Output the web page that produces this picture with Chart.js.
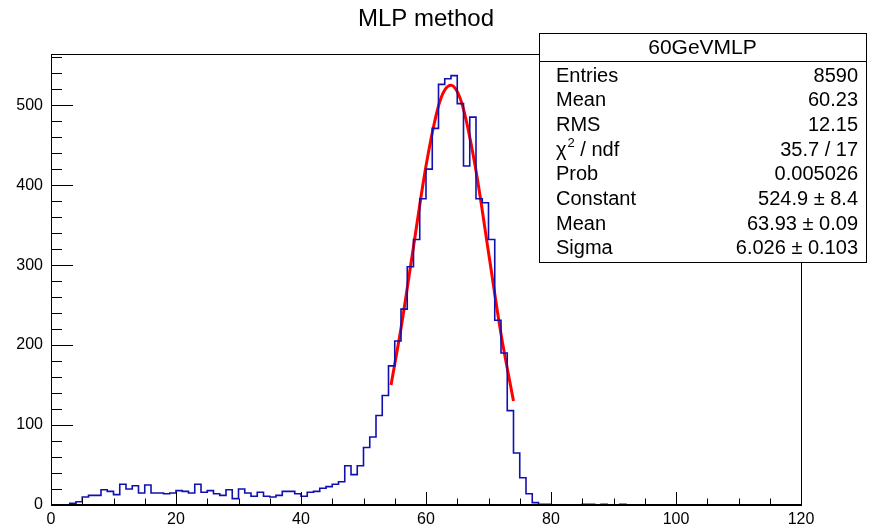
<!DOCTYPE html>
<html>
<head>
<meta charset="utf-8">
<script src="https://cdn.jsdelivr.net/npm/chart.js@4.4.1/dist/chart.umd.min.js"></script>
<style>
  html, body { margin: 0; padding: 0; background: #fff; }
  #mlpChart { display: block; }
</style>
</head>
<body>
<canvas id="mlpChart" width="884" height="526"></canvas>
<script>
// histogram: 120 bins of width 1 from 0 to 120
const binLow = 0;
const binWidth = 1;
const binCounts = [
    0, 0, 0, 2, 4, 10, 12, 12, 19, 17,
    13, 26, 20, 24, 15, 25, 15, 15, 14, 15,
    18, 17, 15, 26, 16, 18, 14, 12, 19, 8,
    20, 15, 11, 16, 11, 10, 12, 17, 17, 14,
    11, 16, 17, 21, 23, 26, 29, 49, 38, 49,
    72, 85, 112, 137, 174, 205, 245, 298, 332, 383,
    420, 471, 526, 533, 537, 502, 424, 485, 383, 378,
    332, 231, 190, 118, 65, 34, 14, 3, 1, 1,
    0, 0, 0, 0, 0, 1, 1, 0, 1, 0,
    0, 1, 0, 0, 0, 0, 0, 0, 0, 0,
    0, 0, 0, 0, 0, 0, 0, 0, 0, 0,
    0, 0, 0, 0, 0, 0, 0, 0, 0, 0
];

// gaus fit curve
const fitX = [54.4, 56, 58, 60, 62, 63, 64, 65, 66, 68, 70, 72, 74];
const fitY = [150, 221, 323, 424, 499, 519, 525, 517, 495, 418, 316, 214, 130];

const xTicks = [0, 20, 40, 60, 80, 100, 120];
const yTicks = [0, 100, 200, 300, 400, 500];
const xMinorStep = 5;
const yMinorStep = 20;
const yMax = 564;

const chartTitle = 'MLP method';
const statsTitle = '60GeVMLP';
const statsLabels = ['Entries', 'Mean', 'RMS', 'CHI2', 'Prob', 'Constant', 'Mean', 'Sigma'];
const statsValues = ['8590', '60.23', '12.15', '35.7 / 17', '0.005026', '524.9 \u00b1 8.4', '63.93 \u00b1 0.09', '6.026 \u00b1 0.103'];

const FONT = '"Liberation Sans", Arial, Helvetica, sans-serif';

function histPoints() {
    const pts = [];
    binCounts.forEach((c, i) => {
        const lo = binLow + i * binWidth;
        pts.push({ x: lo, y: c });
        pts.push({ x: lo + binWidth, y: c });
    });
    return pts;
}

// ROOT style frame with inward ticks, title and stats box
const rootFrame = {
    id: 'rootFrame',
    afterDatasetsDraw(chart) {
        const ctx = chart.ctx;
        const a = chart.chartArea;
        const xs = chart.scales.x;
        const ys = chart.scales.y;
        const L = Math.round(a.left), R = Math.round(a.right);
        const T = Math.round(a.top), B = Math.round(a.bottom);
        ctx.save();
        ctx.strokeStyle = '#000';
        ctx.lineWidth = 1;
        ctx.strokeRect(L + 0.5, T + 0.5, R - L, B - T);
        // bottom axis drawn over the empty bins
        ctx.lineWidth = 2;
        ctx.beginPath();
        ctx.moveTo(L, B);
        ctx.lineTo(R + 1, B);
        ctx.stroke();

        ctx.lineWidth = 1;
        ctx.beginPath();
        for (let v = xs.min; v <= xs.max; v += xMinorStep) {
            const px = Math.round(xs.getPixelForValue(v)) + 0.5;
            const len = xTicks.includes(v) ? 13 : 6.5;
            ctx.moveTo(px, B);
            ctx.lineTo(px, B - len);
        }
        for (let v = 0; v <= ys.max; v += yMinorStep) {
            const py = Math.round(ys.getPixelForValue(v)) + 0.5;
            const len = yTicks.includes(v) ? 22 : 11;
            ctx.moveTo(L, py);
            ctx.lineTo(L + len, py);
        }
        ctx.stroke();
        ctx.restore();
    },
    afterDraw(chart) {
        const ctx = chart.ctx;
        const a = chart.chartArea;
        ctx.save();
        ctx.fillStyle = '#000';
        ctx.font = '24px ' + FONT;
        ctx.textAlign = 'center';
        ctx.textBaseline = 'middle';
        ctx.fillText(chartTitle, (a.left + a.right) / 2, 19);

        // stats box
        const bx = 539, by = 33, bw = 327, bh = 229, head = 28;
        ctx.fillStyle = '#fff';
        ctx.fillRect(bx, by, bw, bh);
        ctx.strokeStyle = '#000';
        ctx.lineWidth = 1;
        ctx.strokeRect(bx + 0.5, by + 0.5, bw, bh);
        ctx.beginPath();
        ctx.moveTo(bx, by + head + 0.5);
        ctx.lineTo(bx + bw, by + head + 0.5);
        ctx.stroke();

        ctx.fillStyle = '#000';
        ctx.font = '21px ' + FONT;
        ctx.textAlign = 'center';
        ctx.fillText(statsTitle, bx + bw / 2, by + head / 2 + 1);

        const rowH = 24.7;
        statsLabels.forEach((lab, i) => {
            const y = 76 + i * rowH;
            ctx.font = '20px ' + FONT;
            ctx.textAlign = 'left';
            if (lab === 'CHI2') {
                ctx.fillText('\u03c7', 556, y);
                let w = ctx.measureText('\u03c7').width;
                ctx.font = '13px ' + FONT;
                ctx.fillText('2', 556 + w + 1, y - 7);
                w += ctx.measureText('2').width + 1;
                ctx.font = '20px ' + FONT;
                ctx.fillText(' / ndf', 556 + w, y);
            } else {
                ctx.fillText(lab, 556, y);
            }
            ctx.textAlign = 'right';
            ctx.fillText(statsValues[i], 858, y);
        });
        ctx.restore();
    }
};

new Chart(document.getElementById('mlpChart').getContext('2d'), {
    type: 'line',
    data: {
        datasets: [{
            label: statsTitle,
            data: histPoints(),
            borderColor: '#1010b0',
            borderWidth: 1.6,
            pointRadius: 0,
            tension: 0,
            fill: false
        }, {
            label: 'gaus',
            data: fitX.map((x, i) => ({ x: x, y: fitY[i] })),
            borderColor: '#ff0000',
            borderWidth: 3,
            pointRadius: 0,
            cubicInterpolationMode: 'monotone',
            fill: false
        }]
    },
    options: {
        responsive: false,
        animation: false,
        devicePixelRatio: 1,
        layout: { padding: { top: 54, right: 83, left: 0, bottom: 0 } },
        plugins: {
            legend: { display: false },
            title: { display: false },
            tooltip: { enabled: false }
        },
        scales: {
            x: {
                type: 'linear',
                min: 0,
                max: 120,
                afterBuildTicks: s => { s.ticks = xTicks.map(v => ({ value: v })); },
                afterFit: s => { s.height = 21; },
                grid: { display: false, drawTicks: false },
                border: { display: false },
                ticks: { color: '#000', font: { family: FONT, size: 16 }, padding: 5, maxRotation: 0 }
            },
            y: {
                type: 'linear',
                min: 0,
                max: yMax,
                afterBuildTicks: s => { s.ticks = yTicks.map(v => ({ value: v })); },
                afterFit: s => { s.width = 51; },
                grid: { display: false, drawTicks: false },
                border: { display: false },
                ticks: { color: '#000', font: { family: FONT, size: 16 }, padding: 8 }
            }
        }
    },
    plugins: [rootFrame]
});
</script>
</body>
</html>
